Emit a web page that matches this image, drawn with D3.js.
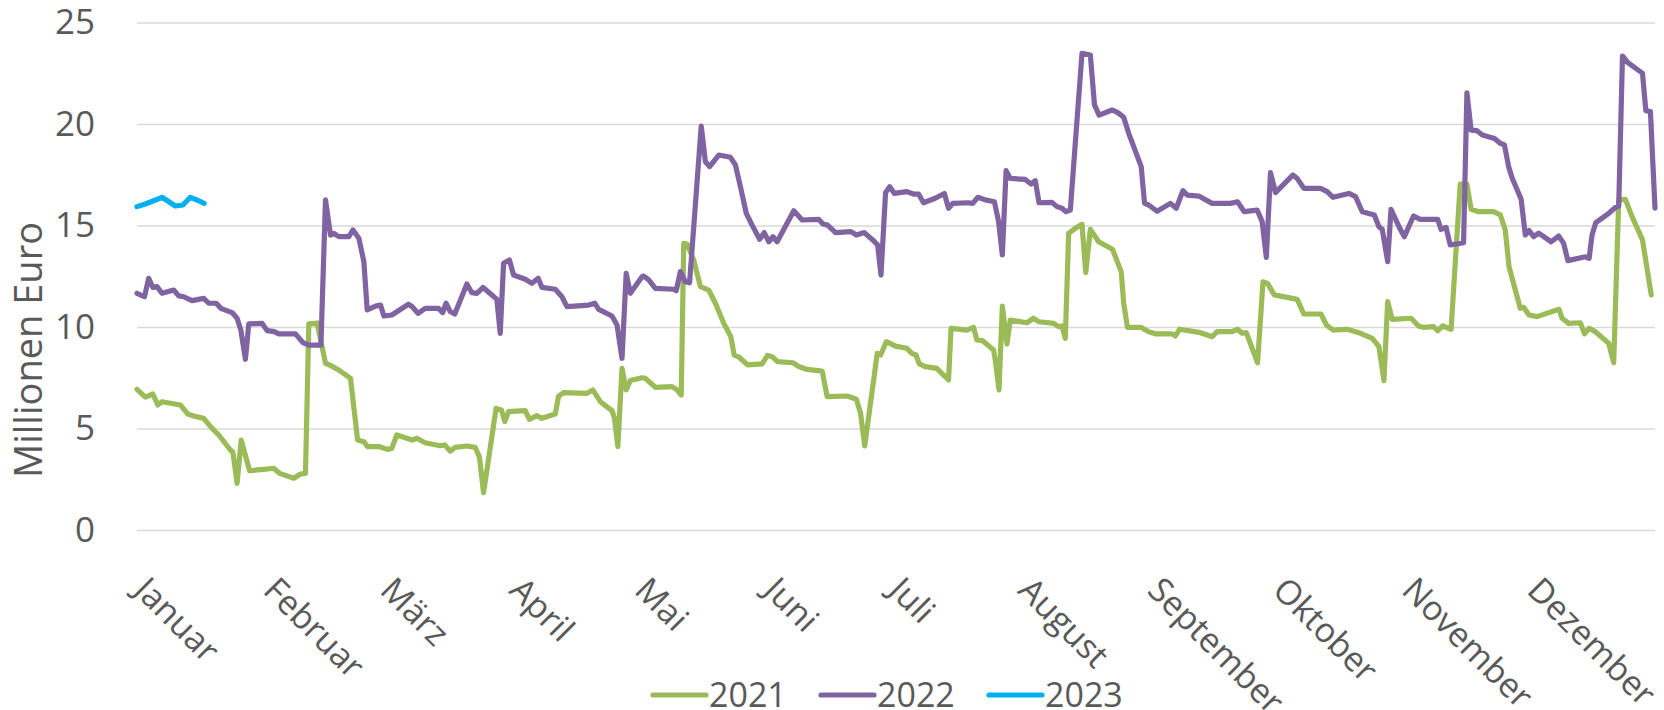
<!DOCTYPE html>
<html>
<head>
<meta charset="utf-8">
<script src="https://cdn.jsdelivr.net/npm/d3@7"></script>
<style>
  body { margin: 0; background: #fff; }
  text { font-family: "Open Sans", sans-serif; fill: #595959; }
</style>
</head>
<body>
<svg id="chart" width="1664" height="710"></svg>
<script>
// month labels and the day of year each one starts on
var months = ["Januar", "Februar", "März", "April", "Mai", "Juni", "Juli",
              "August", "September", "Oktober", "November", "Dezember"];
var monthStart = [0, 31, 59, 90, 120, 151, 181, 212, 243, 273, 304, 334];
var yTicks = [0, 5, 10, 15, 20, 25];

var seriesNames = ["2021", "2022", "2023"];
var seriesColors = ["#9bbb59", "#8064a2", "#00b0f0"];

// day of year / value in million euro
var days2021 = [0,2,3.8,5,6,10.4,12.2,13.6,16,18,19.6,22.4,23,24,25,27,28.8,30.4,32.8,34.2,37.6,39.2,40.4,41.2,42.8,43.2,45.2,46.2,48.4,51.2,52.9,54.4,55.3,58,60,61.1,62.3,66,67.1,69.1,72.7,73.8,75.1,76.3,79.1,81.1,82.1,83.1,86.1,87.4,88.2,89.1,93.1,94.1,95.9,97.1,100.3,101.1,102.3,107.9,109.3,111.1,113.9,114.5,115.3,116.3,117.3,118.3,121.1,121.9,124.3,128.3,129.5,130.5,131.1,131.9,133.5,135.1,137.1,138.7,140.7,142.4,143.2,144.4,146.4,149.9,151.2,152.3,153.6,157.3,158.7,160.7,164.3,165.5,170.3,172.5,173.5,174.5,177.5,178.3,179.7,181.9,184.6,185.8,186.8,187.6,189,191.8,193,194.6,195.2,199,200.6,201.4,202.7,205.4,205.8,206.7,207.5,208.6,209.4,213.4,215,216.2,219.8,221,221.8,222.6,223.4,225,226.6,227.5,228.6,230.6,233.9,236,236.6,237.5,240.8,242.6,244.4,248.2,249,250,255,257.8,259,262.6,263.9,265,266,268.7,270,271.1,272.7,278.2,279.8,283.9,285.2,286.8,290.2,293.4,296.2,297.8,299,299.9,301,305.5,307.3,308.5,310.9,311.9,313.1,315.1,317.3,318.9,319.9,321.7,325.3,326.9,328.1,329,331.7,332.5,333.8,335.7,341,341.7,343.3,346.1,347.1,348.2,349.7,352.9,354.1,355.3,356.9,358.5,361,363.1];
var vals2021 = [6.93,6.54,6.70,6.16,6.32,6.16,5.71,5.62,5.50,5.01,4.68,3.94,3.83,2.30,4.43,2.92,2.96,2.99,3.04,2.79,2.55,2.76,2.79,10.15,10.18,10.2,8.21,8.13,7.88,7.47,4.43,4.35,4.11,4.11,3.97,4.02,4.68,4.43,4.52,4.30,4.15,4.19,3.89,4.07,4.14,4.07,3.61,1.84,5.99,5.91,5.34,5.83,5.88,5.45,5.63,5.50,5.71,6.60,6.77,6.73,6.90,6.32,5.88,5.50,4.11,7.96,6.90,7.36,7.50,7.47,7.03,7.06,6.90,6.65,14.12,14.09,13.30,11.99,11.82,11.17,10.18,9.52,8.62,8.51,8.13,8.18,8.60,8.54,8.29,8.24,8.05,7.91,7.83,6.57,6.60,6.44,5.75,4.14,8.70,8.62,9.28,9.06,8.95,8.70,8.62,8.18,8.05,7.96,7.72,7.39,9.93,9.85,9.98,9.36,9.33,8.87,8.37,6.90,11.03,9.16,10.34,10.21,10.43,10.26,10.18,10.02,10.05,9.44,14.61,14.86,15.06,12.68,14.81,14.20,13.83,12.73,11.17,9.98,9.98,9.77,9.66,9.66,9.56,9.89,9.72,9.52,9.77,9.77,9.89,9.69,9.72,8.24,12.23,12.15,11.58,11.36,10.64,10.64,10.10,9.85,9.89,9.69,9.44,9.03,7.36,11.25,10.38,10.43,10.05,9.98,10.02,9.82,10.05,9.89,17.04,17.04,15.80,15.68,15.68,15.52,14.78,12.97,10.92,10.97,10.59,10.51,10.87,10.43,10.18,10.21,9.66,9.93,9.77,9.20,8.24,16.26,16.29,15.44,14.29,11.58];

var days2022 = [0,1.8,2.8,3.8,4.8,6,8.8,10,11.2,13.2,16,17.2,19,20.1,22.8,24,24.9,26,26.8,30,31.2,32.9,34,38,39.8,41.2,44.1,45.2,46.4,47.2,48.4,50.8,51.8,53.2,54.4,55.2,57.2,58.4,59.2,61.1,65.1,66,67.4,69.1,72.3,73.3,74.1,75.1,76.2,79.1,80.3,81.5,83,85.1,86.3,87.1,87.9,89.3,90.3,93.1,94.7,96.2,97.1,100.3,101.9,103.1,108.3,109.8,110.7,113.9,115.1,116.3,117.3,118.3,121.1,121.5,122.7,124.3,128.7,129.3,130.3,131.5,132.5,135.3,136.3,137.3,139.5,142.3,143.5,144.7,146.1,147.5,149.3,150.4,151.5,152.5,153.5,157.5,159.5,163.5,164.5,165.6,167.5,171.2,172.5,174.4,176.7,177.6,178.4,179.5,180.5,181.6,184.6,186.2,187.4,188.6,191.4,193.6,194.6,195.6,199.4,200.4,201.6,203.4,205.6,206.6,207.5,208.4,209.4,213,214.4,215.4,216.3,219.4,220.6,221.8,222.7,223.8,226.6,228.6,229.6,230.7,233.8,235.2,236.6,237.8,240.8,241.6,242.6,244.6,247.8,249.2,250.8,251.8,254.6,257.8,262.2,263.9,265.5,268.6,269.8,270.8,271.8,273,277.2,278.2,279.8,283.8,285.4,286.8,290.6,292.2,293.8,296.7,297.8,298.6,299.9,300.7,302.8,303.9,306.1,307.7,311.9,312.7,313.9,314.9,318.1,318.9,319.9,321.3,322.6,325.5,326.9,327.9,328.9,329.7,331.9,332.9,333.8,334.9,336.1,339.1,340.9,342.1,343.1,347.3,348.2,348.9,349.8,352.9,354.5,355.3,356.2,357.5,361,361.8,362.9,364];
var vals2022 = [11.66,11.49,12.40,11.95,11.99,11.66,11.82,11.53,11.49,11.30,11.41,11.17,11.17,10.92,10.71,10.43,9.85,8.41,10.15,10.18,9.82,9.77,9.66,9.66,9.23,9.11,9.11,16.26,14.53,14.61,14.45,14.45,14.78,14.37,13.22,10.84,11.03,11.08,10.54,10.59,11.12,11.0,10.67,10.92,10.92,10.71,11.17,10.76,10.64,12.12,11.69,11.66,11.95,11.58,11.36,9.69,13.14,13.30,12.56,12.35,12.15,12.40,11.95,11.86,11.49,11.0,11.08,11.17,10.87,10.54,10.10,8.46,12.64,11.66,12.48,12.51,12.32,11.90,11.86,11.79,12.73,12.23,12.18,19.90,18.14,17.90,18.47,18.36,17.98,16.91,15.60,15.02,14.32,14.65,14.20,14.45,14.20,15.73,15.27,15.30,15.07,15.02,14.65,14.70,14.53,14.65,14.24,14.04,12.56,16.62,16.91,16.58,16.67,16.55,16.55,16.12,16.34,16.58,15.85,16.09,16.12,16.09,16.39,16.26,16.17,15.19,13.55,17.70,17.32,17.27,17.04,17.21,16.12,16.14,15.93,15.85,15.68,15.76,23.48,23.40,20.94,20.44,20.69,20.56,20.33,19.54,17.90,16.09,16.01,15.70,16.09,15.85,16.72,16.50,16.45,16.09,16.09,16.17,15.68,15.76,15.19,13.43,17.60,16.62,17.49,17.32,16.83,16.83,16.67,16.39,16.58,16.42,15.68,15.52,14.94,14.81,13.22,15.80,14.86,14.45,15.47,15.30,15.30,14.81,14.91,14.04,14.15,21.54,19.70,19.67,19.46,19.29,19.05,18.97,17.90,17.37,16.29,14.53,14.75,14.45,14.62,14.20,14.48,14.12,13.27,13.46,13.38,14.53,15.14,15.60,15.89,15.96,23.35,23.02,22.50,20.66,20.61,15.85];

var days2023 = [0,2,4,6,9.2,11,12.8,14.8,16.1];
var vals2023 = [15.93,16.06,16.22,16.39,15.96,16.01,16.39,16.22,16.09];

var svg = d3.select("#chart");

var x = d3.scaleLinear().domain([0, 364]).range([137, 1655]);
var y = d3.scaleLinear().domain([0, 25]).range([530, 22.5]);

// gridlines + y labels
var yAxis = svg.append("g")
    .attr("transform", "translate(" + x.range()[0] + ",0)")
    .call(d3.axisLeft(y).tickValues(yTicks).tickSize(-(x.range()[1] - x.range()[0])).tickPadding(42));
yAxis.select(".domain").remove();
yAxis.selectAll(".tick line").attr("stroke", "#d9d9d9").attr("stroke-width", 1.4);
yAxis.selectAll(".tick text").style("font-size", "35px").attr("fill", "#595959");

// month labels, turned 45 degrees
var xAxis = svg.append("g")
    .attr("transform", "translate(0," + y(0) + ")")
    .call(d3.axisBottom(x).tickValues(monthStart).tickSize(0)
        .tickFormat(function(d, i) { return months[i]; }));
xAxis.select(".domain").remove();
xAxis.selectAll(".tick text")
    .style("font-size", "34px")
    .attr("fill", "#595959")
    .attr("x", 0).attr("y", 0).attr("dy", 0)
    .attr("text-anchor", "start")
    .attr("transform", "translate(-5,62) rotate(45)");

// axis title
svg.append("text")
    .attr("transform", "translate(42,350) rotate(-90)")
    .attr("text-anchor", "middle")
    .style("font-size", "38px")
    .text("Millionen Euro");

var series = [
    {name: seriesNames[0], color: seriesColors[0], days: days2021, vals: vals2021},
    {name: seriesNames[1], color: seriesColors[1], days: days2022, vals: vals2022},
    {name: seriesNames[2], color: seriesColors[2], days: days2023, vals: vals2023}
];

var line = d3.line()
    .x(function(d) { return x(d[0]); })
    .y(function(d) { return y(d[1]); });

svg.append("g").selectAll("path")
    .data(series)
    .enter().append("path")
    .attr("fill", "none")
    .attr("stroke", function(s) { return s.color; })
    .attr("stroke-width", 5.2)
    .attr("stroke-linejoin", "round")
    .attr("stroke-linecap", "round")
    .attr("d", function(s) { return line(d3.zip(s.days, s.vals)); });

// legend
var legend = svg.append("g").selectAll("g")
    .data(series)
    .enter().append("g")
    .attr("transform", function(s, i) { return "translate(" + (653 + i * 168) + ",695)"; });
legend.append("line")
    .attr("x1", 0).attr("x2", 53)
    .attr("stroke", function(s) { return s.color; })
    .attr("stroke-width", 5.2)
    .attr("stroke-linecap", "round");
legend.append("text")
    .attr("x", 56).attr("y", 12)
    .style("font-size", "34px")
    .text(function(s) { return s.name; });
</script>
</body>
</html>
